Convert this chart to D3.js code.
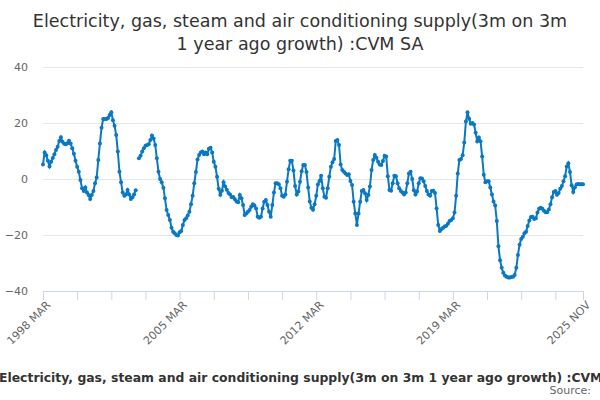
<!DOCTYPE html>
<html lang="en">
<head>
<meta charset="UTF-8">
<title>Electricity, gas, steam and air conditioning supply</title>
<script src="https://d3js.org/d3.v7.min.js"></script>
<style>
  body { margin: 0; background: #fff; }
  text { font-family: "DejaVu Sans", sans-serif; }
</style>
</head>
<body>
<script>
// monthly values, 1998 MAR .. 2025 NOV (null = no value)
var values = [
  5.2, 9.5, 8.5, 6.5, 4.5, 6.2, 7.5, 8.8, 10.4, 11.5,
  13.6, 14.9, 13.3, 12.6, 12.4, 12.8, 13.7, 12.7, 11, 9,
  6.5, 4.4, 2.6, -0.4, -3.3, -4.3, -3, -4.8, -5.7, -7.1,
  -5.7, -4.3, -1.5, 0.5, 6.8, 12.7, 18.3, 21.4, 21.4, 21.4,
  21.8, 22.9, 23.8, 21, 19, 15.7, 9.8, 2.6, -1.2, -4.8,
  -6, -5.5, -3.9, -5.5, -7.1, -6.5, -5.5, -4, null, 7.4,
  8.3, 9.8, 11, 11.9, 12.1, 12.4, 13.9, 15.5, 14.5, 12.1,
  7.4, 2.6, 0, -1.2, -3.1, -6.9, -11.1, -12.9, -14.6, -17.4,
  -18.8, -19.4, -20, -20.2, -19, -18.6, -16.4, -14.6, -14, -13,
  -11.7, -9, -6, -1.5, 2.5, 7, 8.6, 9.5, 9.8, 8.8,
  9.5, 8.8, 10.8, 11.2, 9.5, 6.2, 4.4, 0.8, -3.5, -5.6,
  -4.2, -1.2, -2.7, -3.8, -5, -5.5, -6.5, -6.4, -7.2, -8,
  -8.3, -5.7, -6.9, -9.3, -12.9, -12.3, -11.7, -11.1, -9.9, -9,
  -9.5, -10.5, -13.5, -13.8, -13.5, -10.5, -8.1, -7.5, -9.3, -11.7,
  -13.5, -9.3, -4.8, -1.5, -1.5, -1.9, -3.3, -6, -6.3, -5.5,
  -1, 3.5, 6.5, 6.5, 3, -2.5, -5.5, -4.5, -1, 2.8,
  5, 5, 2.5, -3, -8, -10.3, -11, -9, -6, -2,
  -0.7, 1.2, -3.3, -6.3, -6.7, -3.3, 0.8, 4.4, 6, 7.1,
  13.6, 13.9, 12.1, 5.2, 3.2, 2.6, 2, 1.4, 1.7, -0.7,
  -2.1, -8.1, -12.3, -16.4, -12.3, -8.1, -4.3, -3.9, -5.1, -7.5,
  -5.7, -2.7, 3.2, 6.8, 8.6, 7.6, 6.2, 5.2, 5, 6.4,
  8.3, 8, 1, -3.9, -4.2, -1.5, 1.2, 1, -1.5, -3.3,
  -4.3, -4.8, -5.5, -4.8, -1.5, 2, 2.6, 0, -4, -5.5,
  -4.5, -1.5, 0.3, 0.2, -0.8, -2.5, -4.3, -5.5, -6, -4.3,
  -4.2, -5, -10.5, -16.4, -18.6, -17.9, -17.4, -17, -16.7, -15.9,
  -15, -14.6, -14, -12, -6, 2, 6.8, 7.1, 8.5, 13,
  20.5, 23.8, 21.5, 19.7, 20, 19.5, 16.5, 13.5, 14.8, 13.5,
  8, 1.5, -1.2, -0.8, -0.8, -3, -5.5, -8, -9.5, -15,
  -24, -29, -31.7, -33.5, -34.5, -34.9, -35.2, -35.2, -35, -34.9,
  -34.3, -31.7, -27.1, -23.5, -21.4, -20.6, -19.4, -18.8, -16.8, -14.8,
  -13.6, -13.5, -14.3, -14, -12, -10.6, -10.3, -10.6, -11.3, -11.9,
  -11.9, -10.9, -9, -6.5, -4.6, -4.3, -5.6, -5, -3.5, -2.5,
  -0.8, 1, 4.5, 5.6, 2.5, -2.2, -4.6, -3, -2, -1.8,
  -1.9, -1.9, -1.9
];
var startMonth = new Date(1998, 2, 1);
var monthNames = ["JAN","FEB","MAR","APR","MAY","JUN","JUL","AUG","SEP","OCT","NOV","DEC"];
var tickIdx = [0, 21, 42, 63, 84, 105, 126, 147, 168, 189, 210, 231, 252, 273, 294, 315, 332];
var labelIdx = [0, 84, 168, 252, 332];
var yTicks = [-40, -20, 0, 20, 40];

var titleLines = ["Electricity, gas, steam and air conditioning supply(3m on 3m",
                  "1 year ago growth) :CVM SA"];
var footer = "Electricity, gas, steam and air conditioning supply(3m on 3m 1 year ago growth) :CVM SA";

var width = 600, height = 400,
    plotLeft = 43, plotRight = 583, plotTop = 67, plotBottom = 291;

function label(i) {
  var d = d3.timeMonth.offset(startMonth, i);
  return d.getFullYear() + " " + monthNames[d.getMonth()];
}

var svg = d3.select("body").append("svg")
  .attr("width", width)
  .attr("height", height);

var x = d3.scaleLinear().domain([0, values.length - 1]).range([plotLeft, plotRight]);
var y = d3.scaleLinear().domain([-40, 40]).range([plotBottom, plotTop]);

// title
svg.append("g").selectAll("text")
  .data(titleLines)
  .enter().append("text")
  .attr("x", width / 2)
  .attr("y", function(d, i) { return 27 + i * 23; })
  .attr("text-anchor", "middle")
  .style("font-size", "17.5px")
  .style("fill", "#333")
  .text(function(d) { return d; });

// y grid + labels
var yAxis = svg.append("g")
  .attr("transform", "translate(" + plotLeft + ",0)")
  .call(d3.axisLeft(y).tickValues(yTicks).tickSize(-(plotRight - plotLeft)).tickPadding(15));
yAxis.select(".domain").remove();
yAxis.selectAll(".tick line").attr("stroke", "#e6e6e6");
yAxis.selectAll(".tick text")
  .style("font-size", "11px")
  .style("fill", "#666")
  .style("font-family", "DejaVu Sans, sans-serif");

// x axis
var xAxis = svg.append("g")
  .attr("transform", "translate(0," + plotBottom + ")")
  .call(d3.axisBottom(x).tickValues(tickIdx).tickSize(9).tickSizeOuter(0)
    .tickFormat(function(i) { return labelIdx.indexOf(i) >= 0 ? label(i) : ""; }));
xAxis.select(".domain").attr("stroke", "#ccd6eb");
xAxis.selectAll(".tick line").attr("stroke", "#ccd6eb");
xAxis.selectAll(".tick text")
  .style("font-size", "11px")
  .style("fill", "#666")
  .style("font-family", "DejaVu Sans, sans-serif")
  .attr("text-anchor", "end")
  .attr("dy", null)
  .attr("transform", "translate(2,9) rotate(-45)")
  .attr("x", 0)
  .attr("y", 8);

// line
var line = d3.line()
  .defined(function(d) { return d != null; })
  .x(function(d, i) { return x(i); })
  .y(function(d) { return y(d); });

svg.append("path")
  .datum(values)
  .attr("d", line)
  .attr("fill", "none")
  .attr("stroke", "#0a78c2")
  .attr("stroke-width", 2);

svg.append("g").selectAll("circle")
  .data(values.map(function(v, i) { return {i: i, v: v}; })
              .filter(function(d) { return d.v != null; }))
  .enter().append("circle")
  .attr("cx", function(d) { return x(d.i); })
  .attr("cy", function(d) { return y(d.v); })
  .attr("r", 2)
  .attr("fill", "#0a78c2");

// footer (too long for the width, runs off the right side as in the original)
svg.append("text")
  .attr("x", -1)
  .attr("y", 382)
  .attr("text-anchor", "start")
  .style("font-size", "12.4px")
  .style("font-weight", "bold")
  .style("fill", "#333")
  .text(footer);

svg.append("text")
  .attr("x", 591)
  .attr("y", 394)
  .attr("text-anchor", "end")
  .style("font-size", "11px")
  .style("fill", "#666")
  .text("Source:");
</script>
</body>
</html>
